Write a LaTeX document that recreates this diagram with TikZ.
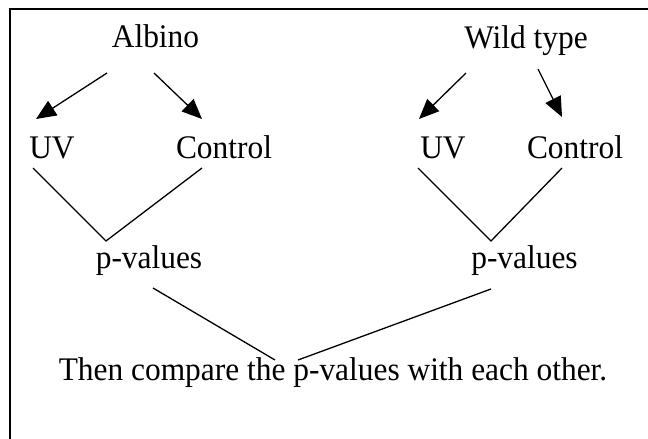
\documentclass[tikz,border=0pt]{standalone}
\usepackage{fontspec}
\setmainfont{Liberation Serif}
\usetikzlibrary{arrows.meta}
\newcommand\tallt[1]{\scalebox{1}[1.05]{#1}}
\begin{document}
\begin{tikzpicture}[x=1pt,y=-1pt,
  lbl/.style={inner sep=0pt,anchor=base,font=\fontsize{31.4}{36}\selectfont},
  arr/.style={line width=1.3pt,-{Triangle[length=20pt,width=17pt]}},
  con/.style={line width=1.3pt},
  frame/.style={line width=2pt}]
\useasboundingbox (0,0) rectangle (648,439);
\draw[frame] (10,445) -- (10,9) -- (655,9);
\node[lbl] (alb) at (155.5,47.5) {\tallt{Albino}};
\node[lbl] (wt) at (526,48) {\tallt{Wild type}};
\node[lbl] (uvl) at (52,158) {\tallt{UV}};
\node[lbl] (ctl) at (224,158) {\tallt{Control}};
\node[lbl] (uvr) at (443,158) {\tallt{UV}};
\node[lbl] (ctr) at (575,158) {\tallt{Control}};
\node[lbl] (pvl) at (149,268) {\tallt{p-values}};
\node[lbl] (pvr) at (524.5,268) {\tallt{p-values}};
\node[lbl] (then) at (333,380) {\tallt{Then compare the p-values with each other.}};
\draw[arr] ([shift={(-48.5,25.5)}]alb.base) -- ([shift={(-16,-39)}]uvl.base);
\draw[arr] ([shift={(-1.5,25.5)}]alb.base) -- ([shift={(-22,-39)}]ctl.base);
\draw[arr] ([shift={(-60,25)}]wt.base) -- ([shift={(-24,-39)}]uvr.base);
\draw[arr] ([shift={(12,21)}]wt.base) -- ([shift={(-13,-41)}]ctr.base);
\draw[con] ([shift={(-19,10)}]uvl.base) -- ([shift={(-43,-27)}]pvl.base) -- ([shift={(-22,10)}]ctl.base);
\draw[con] ([shift={(-25,10)}]uvr.base) -- ([shift={(-33.5,-27)}]pvr.base) -- ([shift={(-13,10)}]ctr.base);
\draw[con] ([shift={(4,20)}]pvl.base) -- ([shift={(-58,-20)}]then.base);
\draw[con] ([shift={(-33.5,21)}]pvr.base) -- ([shift={(-35,-20)}]then.base);
\end{tikzpicture}
\end{document}
